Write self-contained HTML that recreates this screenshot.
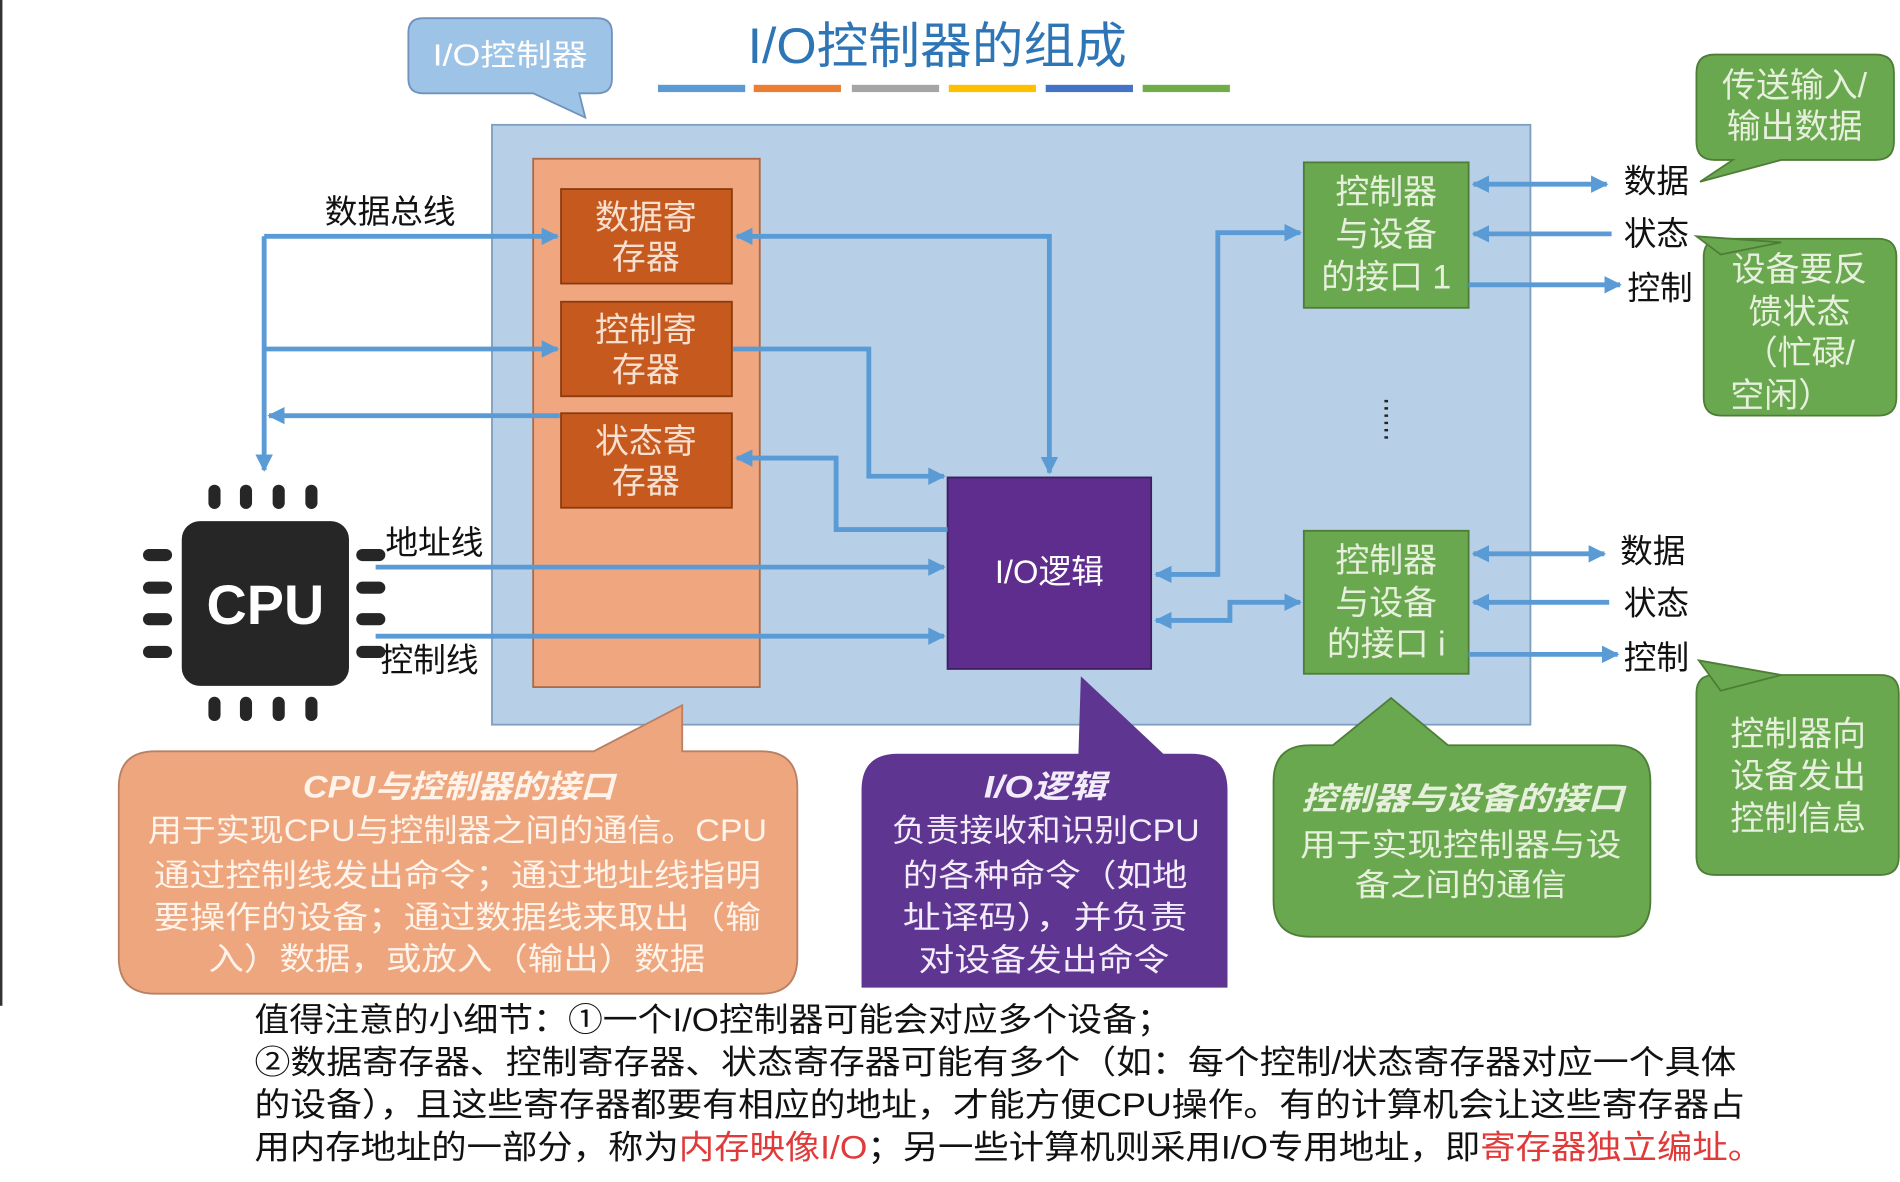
<!DOCTYPE html>
<html><head><meta charset="utf-8"><style>
html,body{margin:0;padding:0;background:#fff;width:1900px;height:1182px;overflow:hidden}
svg{display:block}
text{font-family:"Liberation Sans","Noto Sans CJK SC",sans-serif}
</style></head><body>
<svg width="1900" height="1182" viewBox="0 0 1568 975.4" preserveAspectRatio="none" xmlns="http://www.w3.org/2000/svg">
<defs>
<marker id="a" viewBox="0 0 10 10" refX="9" refY="5" markerWidth="3.6" markerHeight="3.6" orient="auto-start-reverse"><path d="M0,0L10,5L0,10z" fill="#5b9bd5"/></marker>
</defs>
<rect x="0" y="0" width="2" height="830" fill="#333"/>
<!-- title -->
<text x="617" y="52" font-size="41" fill="#2e75b6" textLength="313" lengthAdjust="spacingAndGlyphs">I/O控制器的组成</text>
<rect x="543" y="70" width="72" height="6" fill="#5b9bd5"/>
<rect x="622" y="70" width="72" height="6" fill="#ed7d31"/>
<rect x="703" y="70" width="72" height="6" fill="#a5a5a5"/>
<rect x="783" y="70" width="72" height="6" fill="#ffc000"/>
<rect x="863" y="70" width="72" height="6" fill="#4472c4"/>
<rect x="943" y="70" width="72" height="6" fill="#70ad47"/>
<!-- callout I/O控制器 -->
<path d="M349,15H493Q505,15 505,27V65Q505,77 493,77H478L483,97L440,77H349Q337,77 337,65V27Q337,15 349,15Z" fill="#9dc3e6" stroke="#6f93bb" stroke-width="1.5"/>
<text x="357" y="54" font-size="25" fill="#fff" textLength="128" lengthAdjust="spacingAndGlyphs">I/O控制器</text>
<!-- main -->
<rect x="406" y="103" width="857" height="495" fill="#b7d0e8" stroke="#7f9fc0" stroke-width="1.5"/>
<rect x="440" y="131" width="187" height="436" fill="#f0a780" stroke="#a86a4a" stroke-width="1.5"/>
<g fill="#c65a1e" stroke="#8a3c10" stroke-width="1.5">
<rect x="463" y="156" width="141" height="78"/><rect x="463" y="249" width="141" height="78"/><rect x="463" y="341" width="141" height="78"/>
</g>
<g font-size="28" fill="#f8e0d0" text-anchor="middle">
<text x="533" y="189">数据寄</text><text x="533" y="222">存器</text>
<text x="533" y="282">控制寄</text><text x="533" y="315">存器</text>
<text x="533" y="374">状态寄</text><text x="533" y="407">存器</text>
</g>
<rect x="782" y="394" width="168" height="158" fill="#5e2d8e" stroke="#3f1f60" stroke-width="1.5"/>
<text x="866" y="481" font-size="27" fill="#fff" text-anchor="middle">I/O逻辑</text>
<g fill="#6aa84f" stroke="#4e7d38" stroke-width="1.5">
<rect x="1076" y="134" width="136" height="120"/><rect x="1076" y="438" width="136" height="118"/>
</g>
<g font-size="28" fill="#e6f0dc" text-anchor="middle">
<text x="1144" y="168">控制器</text><text x="1144" y="203">与设备</text><text x="1144" y="238">的接口 1</text>
<text x="1144" y="472">控制器</text><text x="1144" y="507">与设备</text><text x="1144" y="541">的接口 i</text>
</g>
<line x1="1144" y1="330" x2="1144" y2="366" stroke="#222" stroke-width="3" stroke-dasharray="2,4"/>
<!-- connectors -->
<g stroke="#5b9bd5" stroke-width="4" fill="none">
<path d="M218,195V388" marker-end="url(#a)"/>
<path d="M218,195H460" marker-end="url(#a)"/>
<path d="M218,288H460" marker-end="url(#a)"/>
<path d="M462,343H222" marker-end="url(#a)"/>
<path d="M608,195H866V390" marker-start="url(#a)" marker-end="url(#a)"/>
<path d="M605,288H717V393H779" marker-end="url(#a)"/>
<path d="M608,378H690V437H782" marker-start="url(#a)"/>
<path d="M310,468H779" marker-end="url(#a)"/>
<path d="M310,525H779" marker-end="url(#a)"/>
<path d="M954,474H1005V192H1073" marker-start="url(#a)" marker-end="url(#a)"/>
<path d="M954,512H1015V497H1073" marker-start="url(#a)" marker-end="url(#a)"/>
<path d="M1216,152H1326" marker-start="url(#a)" marker-end="url(#a)"/>
<path d="M1330,193H1216" marker-end="url(#a)"/>
<path d="M1212,235H1337" marker-end="url(#a)"/>
<path d="M1216,457H1324" marker-start="url(#a)" marker-end="url(#a)"/>
<path d="M1328,497H1216" marker-end="url(#a)"/>
<path d="M1212,540H1335" marker-end="url(#a)"/>
</g>
<g font-size="27" fill="#111">
<text x="268" y="184">数据总线</text>
<text x="318" y="457">地址线</text>
<text x="314" y="554">控制线</text>
<text x="1340" y="159">数据</text><text x="1340" y="202">状态</text><text x="1343" y="247">控制</text>
<text x="1337" y="464">数据</text><text x="1340" y="507">状态</text><text x="1340" y="552">控制</text>
</g>
<!-- CPU -->
<rect x="150" y="430" width="138" height="136" rx="15" fill="#262626"/>
<text x="219" y="515" font-size="46" font-weight="bold" fill="#fff" text-anchor="middle">CPU</text>
<g fill="#262626">
<rect x="172" y="400" width="10" height="20" rx="5"/><rect x="198" y="400" width="10" height="20" rx="5"/><rect x="225" y="400" width="10" height="20" rx="5"/><rect x="252" y="400" width="10" height="20" rx="5"/>
<rect x="172" y="575" width="10" height="20" rx="5"/><rect x="198" y="575" width="10" height="20" rx="5"/><rect x="225" y="575" width="10" height="20" rx="5"/><rect x="252" y="575" width="10" height="20" rx="5"/>
<rect x="118" y="453" width="24" height="10" rx="5"/><rect x="118" y="480" width="24" height="10" rx="5"/><rect x="118" y="506" width="24" height="10" rx="5"/><rect x="118" y="533" width="24" height="10" rx="5"/>
<rect x="294" y="453" width="24" height="10" rx="5"/><rect x="294" y="480" width="24" height="10" rx="5"/><rect x="294" y="506" width="24" height="10" rx="5"/><rect x="294" y="533" width="24" height="10" rx="5"/>
</g>
<!-- right callouts -->
<g fill="#6aa84f" stroke="#4e7d38" stroke-width="1.5">
<path d="M1415,45H1548Q1563,45 1563,60V117Q1563,132 1548,132H1470L1403,150L1430,132H1415Q1400,132 1400,117V60Q1400,45 1415,45Z"/>
<path d="M1421,197H1550Q1565,197 1565,212V328Q1565,343 1550,343H1421Q1406,343 1406,328V212Q1406,197 1421,197Z"/>
<path d="M1400,195L1470,200L1420,210Z"/>
<path d="M1415,557H1552Q1567,557 1567,572V707Q1567,722 1552,722H1415Q1400,722 1400,707V572Q1400,557 1415,557Z"/>
<path d="M1402,545L1470,557L1420,570Z"/>
</g>
<g font-size="28" fill="#e6f0dc" text-anchor="middle">
<text x="1481" y="80">传送输入/</text><text x="1481" y="114">输出数据</text>
<text x="1485" y="232">设备要反</text><text x="1485" y="267">馈状态</text><text x="1485" y="301">（忙碌/</text><text x="1470" y="336">空闲）</text>
<text x="1484" y="615">控制器向</text><text x="1484" y="650">设备发出</text><text x="1484" y="685">控制信息</text>
</g>
<!-- bottom callouts -->
<path d="M128,620H490L563,582L563,620H628Q658,620 658,650V790Q658,820 628,820H128Q98,820 98,790V650Q98,620 128,620Z" fill="#eea67f" stroke="#b98064" stroke-width="1.5"/>
<g font-size="26" fill="#fff3ea" lengthAdjust="spacingAndGlyphs">
<text x="250" y="658" font-weight="bold" font-style="italic" textLength="257" lengthAdjust="spacingAndGlyphs">CPU与控制器的接口</text>
<text x="122" y="694" textLength="511" lengthAdjust="spacingAndGlyphs">用于实现CPU与控制器之间的通信。CPU</text>
<text x="127" y="731" textLength="501" lengthAdjust="spacingAndGlyphs">通过控制线发出命令；通过地址线指明</text>
<text x="127" y="766" textLength="501" lengthAdjust="spacingAndGlyphs">要操作的设备；通过数据线来取出（输</text>
<text x="172" y="800" textLength="410" lengthAdjust="spacingAndGlyphs">入）数据，或放入（输出）数据</text>
</g>
<path d="M741,622H890L892,558L960,622H983Q1013,622 1013,652V815H711V652Q711,622 741,622Z" fill="#5e3590"/>
<g font-size="26" fill="#f3ecfa">
<text x="812" y="658" font-weight="bold" font-style="italic" textLength="101" lengthAdjust="spacingAndGlyphs">I/O逻辑</text>
<text x="736" y="694" textLength="254" lengthAdjust="spacingAndGlyphs">负责接收和识别CPU</text>
<text x="745" y="731" textLength="235" lengthAdjust="spacingAndGlyphs">的各种命令（如地</text>
<text x="745" y="766" textLength="235" lengthAdjust="spacingAndGlyphs">址译码），并负责</text>
<text x="758" y="801" textLength="207" lengthAdjust="spacingAndGlyphs">对设备发出命令</text>
</g>
<path d="M1081,615H1100L1148,576L1195,615H1332Q1362,615 1362,645V743Q1362,773 1332,773H1081Q1051,773 1051,743V645Q1051,615 1081,615Z" fill="#6aa84f" stroke="#4e7d38" stroke-width="1.5"/>
<g font-size="26" fill="#e6f0dc">
<text x="1074" y="668" font-weight="bold" font-style="italic" textLength="266" lengthAdjust="spacingAndGlyphs">控制器与设备的接口</text>
<text x="1073" y="706" textLength="265" lengthAdjust="spacingAndGlyphs">用于实现控制器与设</text>
<text x="1118" y="739" textLength="175" lengthAdjust="spacingAndGlyphs">备之间的通信</text>
</g>
<!-- bottom note -->
<rect x="190" y="828" width="1378" height="148" fill="#fff"/>
<g font-size="27" fill="#111">
<text x="210" y="851" textLength="757" lengthAdjust="spacingAndGlyphs">值得注意的小细节：①一个I/O控制器可能会对应多个设备；</text>
<text x="210" y="886" textLength="1223" lengthAdjust="spacingAndGlyphs">②数据寄存器、控制寄存器、状态寄存器可能有多个（如：每个控制/状态寄存器对应一个具体</text>
<text x="210" y="921" textLength="1230" lengthAdjust="spacingAndGlyphs">的设备），且这些寄存器都要有相应的地址，才能方便CPU操作。有的计算机会让这些寄存器占</text>
<text x="210" y="956" textLength="1245" lengthAdjust="spacingAndGlyphs">用内存地址的一部分，称为<tspan fill="#e03a3a">内存映像I/O</tspan>；另一些计算机则采用I/O专用地址，即<tspan fill="#e03a3a">寄存器独立编址。</tspan></text>
</g>
</svg>
</body></html>
